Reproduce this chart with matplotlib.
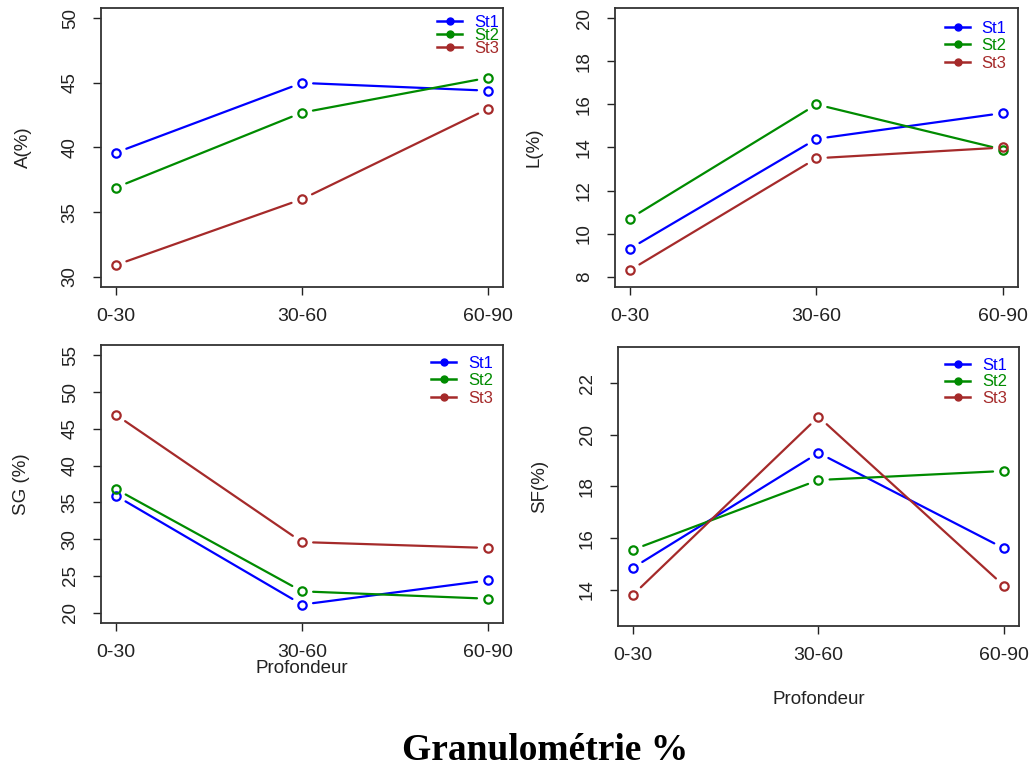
import matplotlib.pyplot as plt
from matplotlib.lines import Line2D

plt.rcParams['font.family'] = ['Liberation Sans', 'DejaVu Sans']

depths = ['0-30', '30-60', '60-90']
stations = ['St1', 'St2', 'St3']
colors = ['#0000FF', '#008B00', '#A52A2A']

# A(%)
a_st1 = [39.6, 45.0, 44.4]
a_st2 = [36.9, 42.7, 45.4]
a_st3 = [30.9, 36.0, 43.0]
# L(%)
l_st1 = [9.3, 14.4, 15.6]
l_st2 = [10.7, 16.0, 13.9]
l_st3 = [8.3, 13.5, 14.0]
# SG(%)
sg_st1 = [35.9, 21.1, 24.4]
sg_st2 = [36.8, 22.9, 21.9]
sg_st3 = [46.9, 29.6, 28.8]
# SF(%)
sf_st1 = [14.85, 19.3, 15.6]
sf_st2 = [15.55, 18.25, 18.6]
sf_st3 = [13.8, 20.7, 14.15]

fig = plt.figure(figsize=(10.32, 7.69), dpi=100)

panels = [
    # rect, series, ylim, yticks, ylabel, ylabel x, xlabel y, legend anchor, legend spacing
    ([0.0979, 0.6268, 0.3895, 0.3628], [a_st1, a_st2, a_st3], (30, 50), range(30, 51, 5),
     'A(%)', -0.172, None, (0.990, 0.975), -0.12),
    ([0.5959, 0.6268, 0.3905, 0.3628], [l_st1, l_st2, l_st3], (8, 20), range(8, 21, 2),
     'L(%)', -0.179, None, (0.972, 0.955), 0.15),
    ([0.0979, 0.1899, 0.3895, 0.3615], [sg_st1, sg_st2, sg_st3], (20, 55), range(20, 56, 5),
     'SG (%)', -0.177, -0.135, (0.975, 0.962), 0.15),
    ([0.5988, 0.1860, 0.3886, 0.3628], [sf_st1, sf_st2, sf_st3], (13, 23), range(14, 23, 2),
     'SF(%)', -0.175, -0.232, (0.970, 0.960), 0.08),
]

xs = [1, 2, 3]
for rect, series, ylim, yticks, ylabel, ylx, xly, leg_anchor, lspace in panels:
    ax = fig.add_axes(rect)
    for vals, c in zip(series, colors):
        # R type="b": segments stop short of the points
        for i in range(len(xs) - 1):
            ax.annotate('', xy=(xs[i + 1], vals[i + 1]), xytext=(xs[i], vals[i]),
                        arrowprops=dict(arrowstyle='-', color=c, lw=1.6,
                                        shrinkA=8, shrinkB=8))
        ax.plot(xs, vals, 'o', color=c, mfc='none', mew=1.6, ms=6, ls='none')
    r = ylim[1] - ylim[0]
    ax.set_ylim(ylim[0] - 0.04 * r, ylim[1] + 0.04 * r)
    ax.set_xlim(0.92, 3.08)
    ax.set_xticks(xs)
    ax.set_xticklabels(depths)
    ax.set_yticks(list(yticks))
    ax.tick_params(axis='x', length=6, width=1, pad=9, labelsize=14, colors='#222222')
    ax.tick_params(axis='y', length=6, width=1, pad=10, labelsize=13.5, colors='#222222',
                   labelrotation=90)
    for t in ax.get_yticklabels():
        t.set_va('center')
    for s in ax.spines.values():
        s.set_linewidth(1.3)
        s.set_color('#333333')
    ax.set_ylabel(ylabel, fontsize=13.5, color='#222222')
    ax.yaxis.set_label_coords(ylx, 0.5)
    if xly is not None:
        ax.set_xlabel('Profondeur', fontsize=13.5, color='#222222')
        ax.xaxis.set_label_coords(0.5, xly)
    handles = [Line2D([], [], color=c, lw=1.8, marker='o', ms=5) for c in colors]
    ax.legend(handles, stations, loc='upper right', bbox_to_anchor=leg_anchor,
              frameon=False, fontsize=12, labelcolor=colors, handlelength=1.5,
              handletextpad=0.7, labelspacing=lspace, borderpad=0, borderaxespad=0)

fig.text(0.528, 0.0117, 'Granulométrie %', ha='center', va='baseline',
         fontsize=27, fontweight='bold', family=['Liberation Serif', 'DejaVu Serif'])

fig.savefig('out.png', dpi=100)
